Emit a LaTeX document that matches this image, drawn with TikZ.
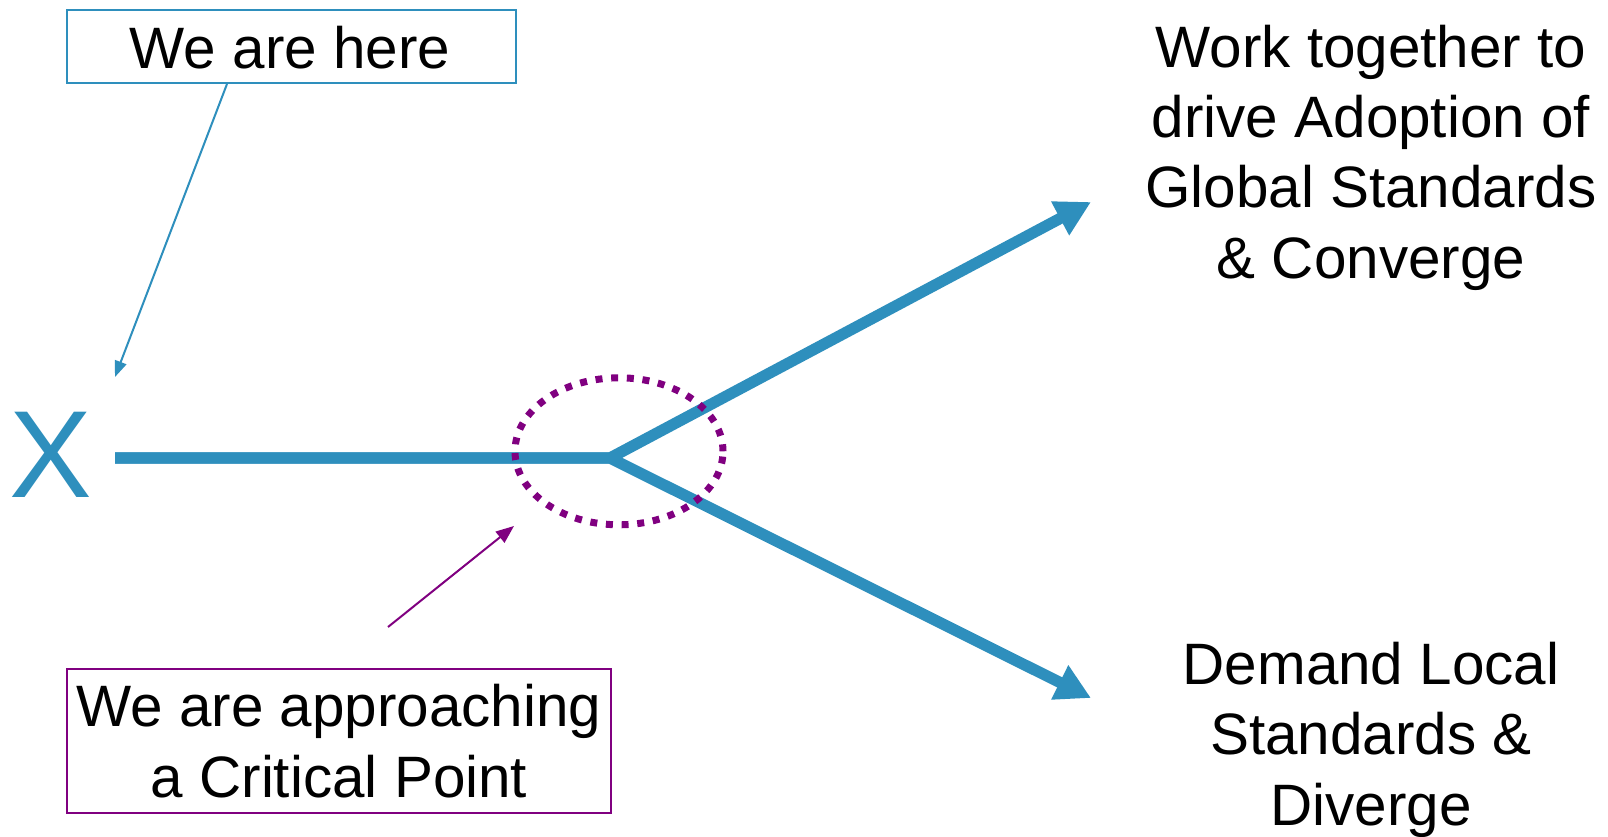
\documentclass[tikz,border=0pt]{standalone}
\usepackage{fontspec}
\setmainfont{Liberation Sans}
\usetikzlibrary{arrows.meta,shapes.geometric}
\definecolor{rblue}{RGB}{46,143,189}
\definecolor{rpurple}{RGB}{128,0,128}
\tikzset{
  bigtext/.style={font=\fontsize{58.4}{70.3}\selectfont, inner sep=0pt, align=center, text=black},
  labelbox/.style={draw, line width=2pt, inner sep=0pt, fill=white},
  mainpath/.style={draw=rblue, line width=11.3pt, line join=miter, -{Triangle[length=35pt,width=36pt]}},
  thinblue/.style={draw=rblue, line width=2pt, -{Triangle[length=16pt,width=12pt]}},
  thinpurple/.style={draw=rpurple, line width=2pt, -{Triangle[length=18pt,width=14pt]}},
}
\begin{document}
\begin{tikzpicture}[x=1pt,y=-1pt]
\useasboundingbox (0,0) rectangle (1608,837);
\fill[white] (0,0) rectangle (1608,837);

% boxes
\node[labelbox, draw=rblue, minimum width=449pt, minimum height=73pt] (hereBox) at (291,46.5) {};
\node[bigtext, anchor=base] (hereText) at (290,68.3) {We are here};

\node[labelbox, draw=rpurple, minimum width=544pt, minimum height=144pt] (critBox) at (339,741) {};
% anchor=base of a multi-line node is the baseline of its last line
\node[bigtext, anchor=base] (critText) at (339,797) {We are approaching\\a Critical Point};

% X mark
\node[inner sep=0pt, anchor=base, text=rblue, font=\fontsize{124}{124}\selectfont] (xmark) at (51,497) {X};

% right texts
\node[bigtext, anchor=base] (converge) at (1371,278) {Work together to\\drive Adoption of\\Global Standards\\\& Converge};
\node[bigtext, anchor=base] (diverge) at (1371,825) {Demand Local\\Standards \&\\Diverge};

% main path
\coordinate (S) at (115,458);
\coordinate (J) at (610,458);
\coordinate (T1) at (1091,202);
\coordinate (T2) at (1091,698);
\path[mainpath] (S) -- (J) -- (T1);
\path[mainpath] (S) -- (J) -- (T2);

% dotted ellipse
\node[ellipse, draw=rpurple, line width=7pt, dash pattern=on 7pt off 8.7pt, minimum width=208pt, minimum height=147pt, inner sep=0pt] (crit) at (619,451.3) {};

% pointer arrows
\coordinate (xtarget) at (115,377);
\path[thinblue] ([xshift=-64pt]hereBox.south) -- (xtarget);
\coordinate (critFrom) at (388,627);
\coordinate (critTarget) at (514,526);
\path[thinpurple] (critFrom) -- (critTarget);
\end{tikzpicture}
\end{document}
